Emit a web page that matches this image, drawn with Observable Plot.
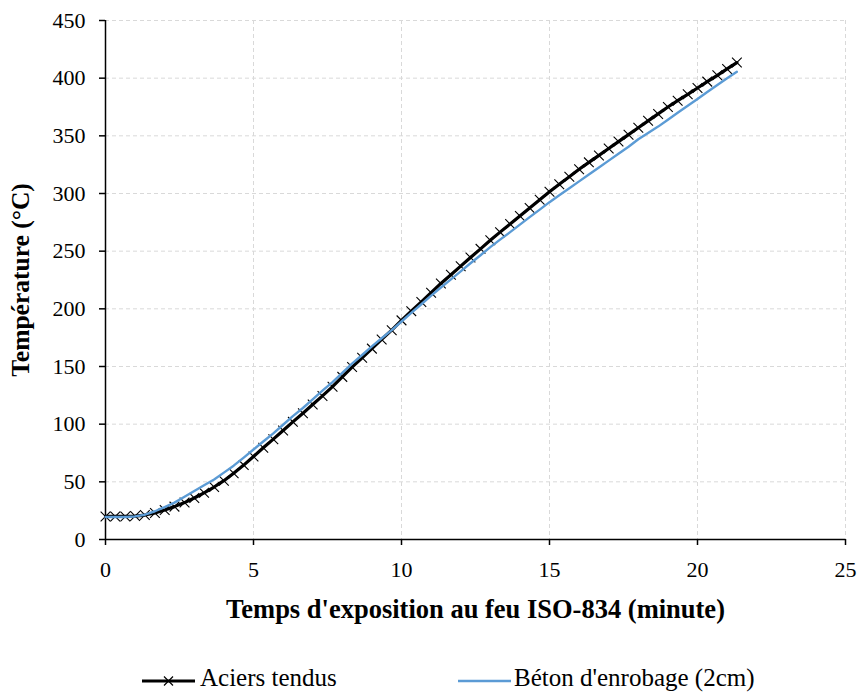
<!DOCTYPE html>
<html>
<head>
<meta charset="utf-8">
<script src="https://cdn.jsdelivr.net/npm/d3@7"></script>
<script src="https://cdn.jsdelivr.net/npm/@observablehq/plot@0.6"></script>
<style>
  html, body { margin: 0; padding: 0; background: #fff; font-family: 'Liberation Serif'; }
  #chart svg { display: block; }
  #chart g[aria-label="x-axis label"] text { font-weight: bold; font-size: 26.5px; }
  #chart g[aria-label="y-axis label"] text { font-weight: bold; font-size: 25.5px; }
  #legend { position: relative; width: 859px; height: 43px; font-size: 25px; color: #000; }
  .item { position: absolute; top: 0; height: 43px; }
  .item svg { position: absolute; top: 0; left: 0; }
  .item span { position: absolute; top: 9px; white-space: nowrap; line-height: 28px; }
</style>
</head>
<body>
<div id="chart"></div>
<div id="legend"></div>
<script>
// Time of exposure (minutes), one point every 20 s
const time = [0.00,0.33,0.67,1.00,1.33,1.67,2.00,2.33,2.67,3.00,3.33,3.67,4.00,4.33,4.67,5.00,5.33,5.67,6.00,6.33,6.67,7.00,7.33,7.67,8.00,8.33,8.67,9.00,9.33,9.67,10.00,10.33,10.67,11.00,11.33,11.67,12.00,12.33,12.67,13.00,13.33,13.67,14.00,14.33,14.67,15.00,15.33,15.67,16.00,16.33,16.67,17.00,17.33,17.67,18.00,18.33,18.67,19.00,19.33,19.67,20.00,20.33,20.67,21.00,21.33];
// Aciers tendus (°C)
const aciers = [20,20,20,20.3,21.2,23,25.5,28.5,32,36,40.5,45.5,51,57.5,64.5,72,79.5,87,94.5,102,109.5,117,124.5,132.5,141,149.5,157.5,165.5,173.5,181.5,190,198,206,214,222,229.5,237,244.5,252,259.5,266.5,273.5,280.5,287.5,294.5,301.5,308,314.5,321,327,333,339,345,351,357,363,369,375,380.5,386,391.5,397,402.5,408,413.5];
// Béton d'enrobage (2cm) (°C)
const beton = [19.5,19.5,19.5,20,21.5,24.5,28,32,37,42,47,52,58,64,71,78,85,92,99.5,107,114,121.5,129,136.5,144.5,152.5,160,167.5,174.5,181.5,189,196.5,204,211.5,218.5,225.5,232.5,239.5,246.5,253.5,260,266.5,273,279.5,286,292.5,298.5,304.5,310.5,316.5,322.5,328.5,334.5,340.5,347,352.5,358,364,370,376,382,388,394,400,405.5];
const xTicks = [0,5,10,15,20,25];
const yTicks = [0,50,100,150,200,250,300,350,400,450];
const seriesNames = ["Aciers tendus", "Béton d'enrobage (2cm)"];
const seriesColors = ["#000000", "#5B9BD5"];
const FONT = "'Liberation Serif'";

const dataA = time.map((t, i) => ({t, v: aciers[i]}));
const dataB = time.map((t, i) => ({t, v: beton[i]}));

const chart = Plot.plot({
  width: 859,
  height: 655,
  marginLeft: 105,
  marginRight: 14,
  marginTop: 20,
  marginBottom: 116,
  style: {fontFamily: FONT, fontSize: "22px", color: "#000", background: "#fff"},
  x: {domain: [0, 25]},
  y: {domain: [0, 450]},
  marks: [
    Plot.gridX(xTicks.slice(1), {stroke: "#d9d9d9", strokeOpacity: 1, strokeDasharray: "4,3", strokeWidth: 1}),
    Plot.gridY(yTicks.slice(1), {stroke: "#d9d9d9", strokeOpacity: 1, strokeDasharray: "4,3", strokeWidth: 1}),
    Plot.axisX(xTicks, {tickSize: 6, tickPadding: 16, stroke: "#000", strokeWidth: 1.5, label: "Temps d'exposition au feu ISO-834 (minute)", labelAnchor: "center", labelOffset: 78, labelArrow: "none", fontSize: 22, fontFamily: FONT}),
    Plot.axisY(yTicks, {tickSize: 6, tickPadding: 14, stroke: "#000", strokeWidth: 1.5, label: "Température (°C)", labelAnchor: "center", labelOffset: 95, labelArrow: "none", fontSize: 22, fontFamily: FONT}),
    Plot.ruleY([0], {stroke: "#000", strokeWidth: 1.5}),
    Plot.ruleX([0], {stroke: "#000", strokeWidth: 1.5}),
    Plot.line(dataA, {x: "t", y: "v", stroke: seriesColors[0], strokeWidth: 3.2}),
    Plot.dot(dataA, {x: "t", y: "v", symbol: "times", r: 4.5, stroke: seriesColors[0], strokeWidth: 1.1}),
    Plot.line(dataB, {x: "t", y: "v", stroke: seriesColors[1], strokeWidth: 2.4})
  ]
});
chart.querySelectorAll("text").forEach(t => t.style.fontFamily = FONT);
document.getElementById("chart").appendChild(chart);

// Legend
const legend = document.getElementById("legend");
const items = [
  {left: 142, textLeft: 58, marker: true},
  {left: 458, textLeft: 56, marker: false}
];
items.forEach((it, i) => {
  const div = document.createElement("div");
  div.className = "item";
  div.style.left = it.left + "px";
  const ns = "http://www.w3.org/2000/svg";
  const s = document.createElementNS(ns, "svg");
  s.setAttribute("width", 56); s.setAttribute("height", 43);
  const ln = document.createElementNS(ns, "line");
  ln.setAttribute("x1", 0); ln.setAttribute("x2", 53);
  ln.setAttribute("y1", 26); ln.setAttribute("y2", 26);
  ln.setAttribute("stroke", seriesColors[i]);
  ln.setAttribute("stroke-width", i === 0 ? 3.2 : 2.4);
  s.appendChild(ln);
  if (it.marker) {
    const p = document.createElementNS(ns, "path");
    p.setAttribute("d", "M22,21.5L31,30.5M22,30.5L31,21.5");
    p.setAttribute("stroke", "#000"); p.setAttribute("stroke-width", 1.2);
    s.appendChild(p);
  }
  div.appendChild(s);
  const sp = document.createElement("span");
  sp.style.left = it.textLeft + "px";
  sp.style.fontFamily = FONT;
  sp.textContent = seriesNames[i];
  div.appendChild(sp);
  legend.appendChild(div);
});
</script>
</body>
</html>
